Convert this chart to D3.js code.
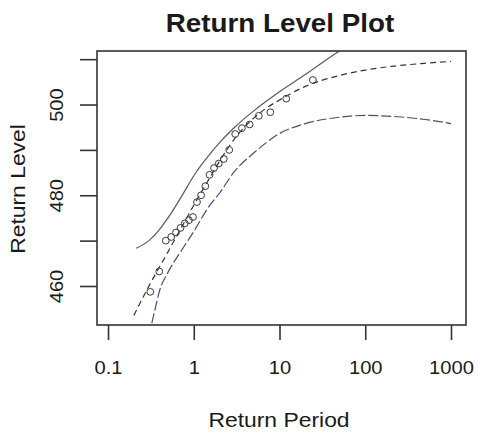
<!DOCTYPE html>
<html>
<head>
<meta charset="utf-8">
<script src="https://cdn.jsdelivr.net/npm/d3@7"></script>
<style>
  html, body { margin: 0; padding: 0; background: #fff; }
  svg { display: block; }
  text { font-family: "Liberation Sans", Arial, Helvetica, sans-serif; fill: #1a1a1a; }
</style>
</head>
<body>
<svg id="chart" width="479" height="434"></svg>
<script>
// Observed annual maxima: empirical return period (years) and level
const obsPeriod = [0.311, 0.396, 0.472, 0.546, 0.621, 0.701, 0.786, 0.878, 0.979, 1.091, 1.218, 1.363,
                   1.529, 1.724, 1.958, 2.241, 2.593, 3.044, 3.644, 4.481, 5.735, 7.82, 11.99, 24.5];
const obsLevel  = [458.7, 463.2, 470.0, 470.8, 471.8, 472.8, 473.8, 474.5, 475.2, 478.5, 480.0, 482.0,
                   484.5, 486.0, 487.0, 488.0, 490.0, 493.5, 494.8, 495.6, 497.5, 498.3, 501.3, 505.4];

// Fitted return level curve
const fitPeriod = [0.2, 0.3, 0.5, 0.7, 1, 1.5, 2, 3, 5, 7, 10, 20, 50, 100, 200, 500, 1000];
const fitLevel  = [453.5, 460.0, 467.5, 472.5, 477.8, 483.5, 487.5, 492.5, 497.0, 499.2, 501.0, 504.0,
                   506.4, 507.6, 508.4, 509.1, 509.5];

// Upper confidence bound
const upperPeriod = [0.213, 0.3, 0.4, 0.5, 0.75, 1, 1.5, 2, 3, 5, 10, 20, 50, 70];
const upperLevel  = [468.3, 470.0, 472.5, 475.0, 480.3, 484.3, 488.8, 491.6, 495.0, 498.6, 502.8, 506.6, 511.8, 513.5];

// Lower confidence bound
const lowerPeriod = [0.3, 0.35, 0.4, 0.5, 0.7, 1, 1.5, 2, 3, 5, 10, 20, 50, 100, 200, 500, 1000];
const lowerLevel  = [449.0, 454.5, 459.0, 463.0, 467.5, 472.0, 477.5, 480.5, 485.3, 489.3, 493.6, 495.8,
                     497.2, 497.6, 497.4, 496.7, 495.8];

// Axis ticks
const xTicks = [0.1, 1, 10, 100, 1000];
const xTickLabels = ["0.1", "1", "10", "100", "1000"];
const yTicks = [460, 470, 480, 490, 500, 510];
const yTickLabels = ["460", "", "480", "", "500", ""];

const svg = d3.select("#chart");
const plot = { left: 97, right: 466, top: 51, bottom: 325 };

const x = d3.scaleLog().domain([0.0744, 1496]).range([plot.left, plot.right]);
const y = d3.scaleLinear().domain([451.4, 511.8]).range([plot.bottom, plot.top]);

svg.append("rect").attr("width", 479).attr("height", 434).attr("fill", "#fff");

svg.append("defs").append("clipPath").attr("id", "plotClip")
  .append("rect")
  .attr("x", plot.left).attr("y", plot.top)
  .attr("width", plot.right - plot.left).attr("height", plot.bottom - plot.top);

const g = svg.append("g").attr("clip-path", "url(#plotClip)");

const line = d3.line()
  .x(d => x(d[0]))
  .y(d => y(d[1]))
  .curve(d3.curveMonotoneX);

const pairs = (ps, ls) => ps.map((p, i) => [p, ls[i]]);

// Confidence bounds and fitted curve
g.append("path")
  .attr("d", line(pairs(upperPeriod, upperLevel)))
  .attr("fill", "none").attr("stroke", "#5a5a5a").attr("stroke-width", 1.2);

g.append("path")
  .attr("d", line(pairs(lowerPeriod, lowerLevel)))
  .attr("fill", "none").attr("stroke", "#4b4b78").attr("stroke-width", 1.2)
  .attr("stroke-dasharray", "10,3");

g.append("path")
  .attr("d", line(pairs(fitPeriod, fitLevel)))
  .attr("fill", "none").attr("stroke", "#333").attr("stroke-width", 1.2)
  .attr("stroke-dasharray", "6,4");

// Observations
g.selectAll("circle.obs")
  .data(pairs(obsPeriod, obsLevel))
  .join("circle")
  .attr("class", "obs")
  .attr("cx", d => x(d[0]))
  .attr("cy", d => y(d[1]))
  .attr("r", 3.4)
  .attr("fill", "none")
  .attr("stroke", "#3a3a3a")
  .attr("stroke-width", 1);

// Plot frame
svg.append("rect")
  .attr("x", plot.left).attr("y", plot.top)
  .attr("width", plot.right - plot.left).attr("height", plot.bottom - plot.top)
  .attr("fill", "none").attr("stroke", "#333").attr("stroke-width", 1.6);

// X axis (ticks hang below the frame)
const xAxis = d3.axisBottom(x)
  .tickValues(xTicks)
  .tickFormat((d, i) => xTickLabels[i])
  .tickSize(15);
const gx = svg.append("g").attr("transform", `translate(0,${plot.bottom})`).call(xAxis);
gx.select(".domain").remove();
gx.selectAll(".tick line").attr("stroke", "#333").attr("stroke-width", 1.6);
gx.selectAll(".tick text")
  .attr("font-size", 18.5)
  .attr("fill", "#1a1a1a")
  .attr("dy", null)
  .attr("y", null)
  .attr("transform", "translate(0,49) scale(1.09,1)");

// Y axis (labels parallel to the axis)
const yAxis = d3.axisLeft(y)
  .tickValues(yTicks)
  .tickFormat((d, i) => yTickLabels[i])
  .tickSize(17);
const gy = svg.append("g").attr("transform", `translate(${plot.left},0)`).call(yAxis);
gy.select(".domain").remove();
gy.selectAll(".tick line").attr("stroke", "#333").attr("stroke-width", 1.6);
gy.selectAll(".tick text")
  .attr("font-size", 18.5)
  .attr("fill", "#1a1a1a")
  .attr("x", null).attr("dy", null)
  .attr("text-anchor", "middle")
  .attr("transform", "translate(-34,0) rotate(-90) scale(1.09,1)");

// Titles
svg.append("text")
  .attr("text-anchor", "middle")
  .attr("font-size", 25.5).attr("font-weight", "bold")
  .attr("transform", "translate(280,32) scale(1.09,1)")
  .text("Return Level Plot");

svg.append("text")
  .attr("text-anchor", "middle")
  .attr("font-size", 21)
  .attr("transform", "translate(279,427) scale(1.09,1)")
  .text("Return Period");

svg.append("text")
  .attr("text-anchor", "middle")
  .attr("font-size", 21)
  .attr("transform", "translate(25,189) rotate(-90) scale(1.09,1)")
  .text("Return Level");
</script>
</body>
</html>
